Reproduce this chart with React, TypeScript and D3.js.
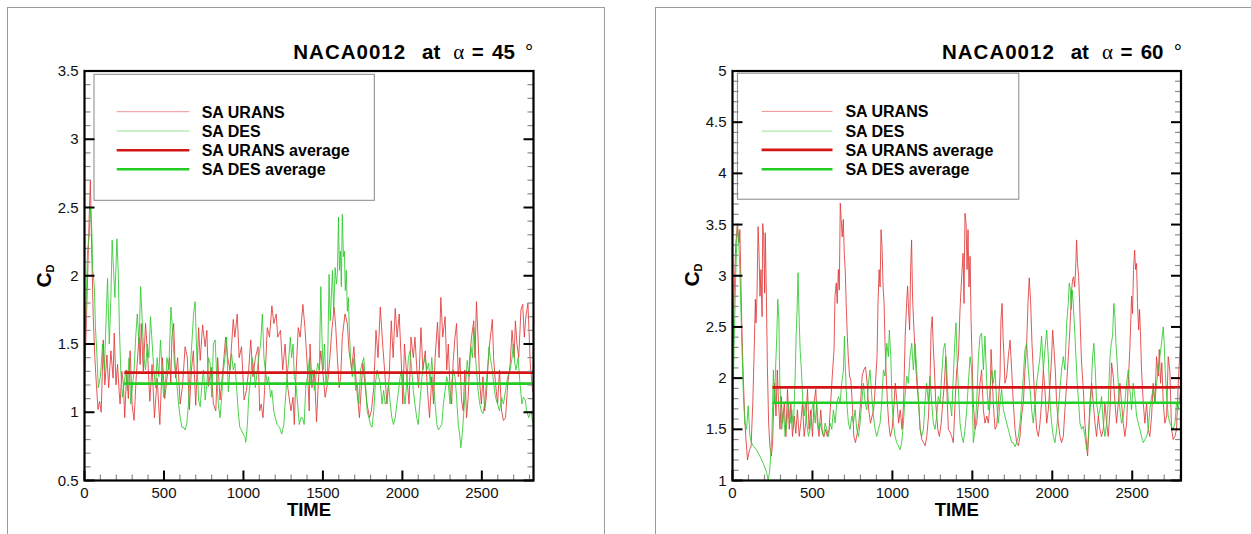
import React from 'react';
import * as d3 from 'd3';

type Pt = [number, number];

// ---- alpha = 45 deg : time, CD ----
const URANS_45: Pt[] = [[0,1.22],[10,1.6],[20,2.0],[30,2.45],[37,2.70],[45,2.2],[55,1.7],[65,1.4],[75,1.2],[85,1.02],[95,1.08],[105,1.0],[118,1.53],[128,1.2],[141,1.42],[152,1.18],[166,1.45],[180,1.25],[187,1.58],[198,1.2],[208,1.35],[218,1.15],[224,1.06],[235,1.3],[245,1.2],[253,0.96],[266,1.31],[276,1.1],[287,1.45],[300,1.05],[312,0.94],[325,1.25],[343,1.55],[350,1.35],[357,1.65],[370,1.3],[384,1.65],[398,1.4],[411,1.08],[425,1.35],[440,0.96],[457,1.25],[474,0.91],[490,1.4],[505,1.1],[519,1.25],[535,1.4],[543,1.2],[550,1.55],[561,1.65],[573,1.25],[586,1.4],[602,1.06],[617,1.2],[633,1.48],[647,1.4],[660,1.02],[672,1.3],[685,1.45],[700,1.05],[718,1.62],[728,1.38],[743,1.64],[759,1.48],[770,1.60],[780,1.19],[797,1.33],[811,1.06],[826,1.01],[838,1.40],[853,1.09],[874,1.35],[888,1.55],[901,1.40],[915,1.31],[936,1.68],[946,1.55],[961,1.72],[973,1.40],[988,1.48],[1004,1.09],[1019,1.16],[1033,1.31],[1046,1.53],[1060,1.26],[1075,1.40],[1092,1.48],[1102,1.01],[1112,1.06],[1123,0.96],[1133,1.16],[1150,1.62],[1164,1.55],[1179,1.78],[1191,1.65],[1206,1.72],[1216,1.55],[1233,1.60],[1247,1.31],[1262,1.50],[1279,1.18],[1299,1.01],[1312,1.11],[1320,0.91],[1330,1.26],[1345,1.62],[1357,1.55],[1374,1.79],[1387,1.62],[1403,1.31],[1414,1.01],[1419,1.50],[1431,1.18],[1446,1.31],[1460,0.93],[1473,1.26],[1487,1.45],[1498,1.31],[1514,1.11],[1529,1.21],[1544,1.40],[1556,1.60],[1571,1.77],[1581,1.62],[1591,1.40],[1602,1.18],[1612,1.26],[1622,1.55],[1639,1.72],[1654,1.65],[1664,1.45],[1681,1.31],[1695,1.48],[1710,1.21],[1722,1.06],[1730,0.96],[1743,1.21],[1751,1.36],[1764,1.21],[1778,1.06],[1793,0.96],[1805,1.01],[1820,1.18],[1834,1.60],[1847,1.40],[1861,1.77],[1876,1.50],[1888,1.31],[1903,1.06],[1917,1.26],[1930,1.67],[1942,1.40],[1955,1.76],[1967,1.55],[1980,1.72],[1992,1.40],[2003,1.06],[2013,1.50],[2028,1.26],[2042,1.06],[2054,1.55],[2069,1.40],[2079,1.55],[2092,1.30],[2102,1.18],[2117,1.62],[2129,1.31],[2144,1.45],[2158,1.16],[2171,0.96],[2185,1.26],[2196,1.06],[2206,1.40],[2221,1.66],[2231,1.40],[2242,1.84],[2254,1.55],[2269,1.70],[2279,1.31],[2289,1.50],[2300,1.16],[2310,1.06],[2320,1.38],[2331,1.55],[2341,1.65],[2352,1.26],[2362,1.40],[2372,1.09],[2383,1.01],[2393,1.31],[2404,0.96],[2414,1.11],[2424,1.40],[2435,1.55],[2449,1.67],[2457,1.40],[2466,1.81],[2476,1.55],[2487,1.21],[2497,1.06],[2507,1.26],[2518,1.01],[2528,1.11],[2539,1.35],[2549,1.50],[2566,1.68],[2574,1.40],[2586,1.21],[2599,1.06],[2611,1.31],[2624,1.01],[2636,0.94],[2649,0.96],[2663,1.21],[2678,1.35],[2690,1.60],[2703,1.40],[2711,1.67],[2721,1.50],[2732,1.40],[2746,1.75],[2757,1.79],[2767,1.55],[2777,1.70],[2790,1.80],[2805,1.35],[2820,1.15]];

const DES_45: Pt[] = [[0,1.35],[10,1.8],[20,2.2],[30,2.3],[37,2.50],[46,2.34],[52,2.04],[62,1.92],[69,1.62],[79,1.40],[87,1.18],[100,1.26],[114,1.50],[125,1.31],[135,1.65],[145,1.98],[156,1.50],[166,1.84],[174,2.26],[183,2.04],[191,1.84],[204,2.27],[212,2.04],[220,1.60],[228,1.31],[239,1.11],[249,1.21],[260,1.31],[270,1.16],[280,1.40],[291,1.06],[301,1.18],[312,1.31],[322,1.55],[332,1.72],[343,1.50],[353,1.92],[363,1.67],[374,1.40],[384,1.31],[395,1.50],[405,1.40],[415,1.70],[426,1.50],[436,1.31],[447,1.18],[457,1.40],[467,1.26],[478,1.53],[488,1.31],[498,1.11],[509,1.21],[519,1.40],[530,1.31],[544,1.77],[557,1.55],[565,1.36],[577,1.26],[592,1.06],[602,0.96],[613,0.89],[623,0.89],[633,0.87],[644,0.92],[654,1.06],[665,1.31],[675,1.50],[686,1.72],[696,1.81],[707,1.40],[718,1.09],[728,1.04],[739,1.21],[749,1.31],[759,1.09],[770,1.21],[780,1.40],[790,1.36],[801,1.11],[811,1.50],[822,1.53],[832,1.26],[842,1.06],[853,0.96],[863,1.11],[874,1.31],[884,1.40],[894,1.55],[905,1.15],[915,1.31],[925,1.43],[936,1.31],[946,1.36],[957,1.18],[967,1.01],[977,0.89],[988,0.87],[998,0.84],[1009,0.82],[1015,0.78],[1025,0.91],[1033,1.11],[1046,1.26],[1054,1.40],[1067,1.31],[1075,1.18],[1087,1.31],[1096,1.40],[1108,1.50],[1119,1.72],[1129,1.40],[1137,1.31],[1150,1.21],[1158,1.26],[1171,1.11],[1179,1.16],[1191,1.01],[1200,0.96],[1212,0.91],[1227,0.89],[1241,0.84],[1254,0.91],[1262,1.06],[1274,1.26],[1283,1.36],[1295,1.55],[1303,1.40],[1312,1.50],[1320,1.26],[1330,1.21],[1341,1.06],[1351,0.91],[1362,0.96],[1372,0.96],[1382,0.91],[1393,1.21],[1404,1.26],[1415,1.40],[1425,1.21],[1436,1.31],[1446,1.16],[1456,1.26],[1467,1.36],[1477,1.31],[1487,1.92],[1494,1.55],[1502,1.31],[1510,1.50],[1519,1.21],[1529,1.31],[1539,2.01],[1546,1.67],[1554,1.87],[1560,2.04],[1568,1.74],[1577,2.06],[1585,1.94],[1591,2.01],[1598,2.43],[1604,2.04],[1610,2.18],[1616,1.92],[1622,2.45],[1629,2.14],[1635,2.18],[1641,1.89],[1647,2.04],[1654,1.74],[1660,1.84],[1668,1.55],[1674,1.40],[1685,1.26],[1695,1.40],[1706,1.16],[1716,1.21],[1726,1.06],[1737,1.31],[1747,1.36],[1757,1.40],[1768,1.21],[1778,1.01],[1789,0.96],[1799,0.91],[1809,0.89],[1820,1.01],[1830,1.21],[1841,1.31],[1851,1.26],[1861,1.21],[1872,1.06],[1882,1.16],[1892,1.06],[1903,1.09],[1913,1.21],[1924,1.06],[1934,0.96],[1944,0.91],[1955,0.96],[1965,1.06],[1976,1.16],[1986,1.26],[1996,1.31],[2007,1.16],[2017,1.06],[2027,1.21],[2038,1.40],[2048,1.45],[2059,1.31],[2069,1.16],[2079,1.06],[2090,0.96],[2100,0.91],[2113,1.11],[2123,1.26],[2134,1.36],[2144,1.40],[2154,1.31],[2165,1.36],[2175,1.21],[2185,1.40],[2196,1.21],[2206,1.06],[2217,0.91],[2227,0.87],[2237,0.89],[2248,0.91],[2258,1.06],[2269,1.16],[2279,1.26],[2289,1.21],[2300,1.06],[2310,1.21],[2320,1.31],[2331,1.26],[2341,1.11],[2352,0.91],[2362,0.82],[2368,0.74],[2379,0.87],[2387,1.01],[2399,1.21],[2408,1.38],[2420,1.26],[2431,1.48],[2441,1.40],[2449,1.62],[2458,1.45],[2466,1.31],[2476,1.16],[2487,1.06],[2497,1.01],[2507,0.99],[2518,1.06],[2528,1.21],[2539,1.36],[2545,1.48],[2553,1.40],[2566,1.31],[2574,1.21],[2586,1.11],[2599,1.06],[2611,1.01],[2624,1.11],[2636,1.06],[2649,1.16],[2663,1.26],[2678,1.31],[2690,1.40],[2698,1.50],[2707,1.36],[2715,1.31],[2728,1.40],[2740,1.21],[2752,1.06],[2761,1.11],[2773,1.09],[2782,1.01],[2795,0.96],[2810,1.01],[2820,0.92]];

// ---- alpha = 60 deg : time, CD ----
const URANS_60: Pt[] = [[0,2.0],[10,2.8],[20,3.3],[31,3.51],[41,3.32],[46,3.45],[52,3.0],[58,2.54],[66,2.08],[75,1.66],[83,1.43],[94,1.2],[106,1.30],[116,1.33],[127,1.76],[137,2.34],[143,2.77],[147,2.54],[153,2.80],[160,3.48],[166,3.22],[172,2.80],[178,3.06],[185,2.60],[189,3.51],[195,3.38],[201,2.83],[205,3.42],[212,2.80],[218,2.12],[226,1.56],[234,1.33],[243,1.24],[251,1.37],[257,1.69],[263,1.95],[272,1.63],[280,2.08],[288,1.76],[297,1.50],[305,1.82],[313,1.56],[324,1.76],[334,1.43],[344,1.89],[355,1.50],[365,1.76],[375,1.43],[386,1.63],[396,1.46],[406,1.69],[417,1.43],[427,1.56],[438,1.76],[448,1.43],[458,1.56],[469,1.89],[479,1.50],[489,1.69],[500,1.43],[510,1.76],[521,1.89],[531,1.56],[541,1.43],[552,1.69],[562,1.46],[572,1.43],[583,1.50],[593,1.43],[604,1.50],[614,1.76],[624,2.02],[635,2.28],[641,2.80],[649,2.93],[655,2.73],[662,3.06],[668,2.86],[674,3.71],[680,3.55],[686,3.38],[693,3.55],[699,3.22],[705,3.06],[711,2.73],[718,2.41],[724,2.21],[732,2.02],[740,1.98],[749,1.76],[759,1.43],[769,1.37],[780,1.46],[790,1.56],[801,1.76],[811,2.02],[821,2.08],[832,2.11],[842,1.95],[852,1.69],[863,1.56],[873,1.63],[883,1.69],[894,1.95],[904,2.21],[910,2.73],[917,3.06],[923,2.89],[929,3.45],[935,3.29],[942,2.89],[948,2.73],[954,2.34],[960,2.08],[969,1.76],[977,1.56],[987,1.43],[998,1.50],[1008,1.69],[1018,1.95],[1029,1.76],[1039,1.56],[1049,1.69],[1060,1.50],[1070,1.76],[1080,2.41],[1089,2.73],[1095,2.90],[1101,2.67],[1108,2.47],[1114,3.06],[1120,3.35],[1126,2.80],[1132,2.57],[1139,2.34],[1145,2.15],[1153,1.95],[1164,1.76],[1174,1.50],[1184,1.40],[1195,1.37],[1205,1.34],[1215,1.43],[1226,1.63],[1236,2.02],[1242,2.47],[1249,2.60],[1255,2.34],[1263,2.08],[1271,1.76],[1284,1.50],[1294,1.43],[1305,1.56],[1315,1.76],[1325,1.95],[1334,2.21],[1342,1.82],[1350,1.50],[1361,1.47],[1371,1.43],[1381,1.37],[1392,1.76],[1402,2.08],[1413,2.21],[1423,2.67],[1429,2.86],[1436,3.06],[1442,3.22],[1448,2.73],[1454,3.61],[1461,3.51],[1467,3.06],[1473,3.45],[1479,2.89],[1486,3.19],[1492,2.57],[1498,2.21],[1506,1.76],[1517,1.50],[1527,1.56],[1538,1.76],[1548,1.95],[1558,2.08],[1569,1.69],[1579,1.56],[1590,1.63],[1600,1.56],[1611,1.76],[1617,2.28],[1623,2.08],[1631,1.76],[1642,1.50],[1652,1.53],[1663,1.76],[1673,2.02],[1679,2.57],[1686,2.73],[1692,2.41],[1698,2.21],[1704,1.95],[1715,2.02],[1725,2.21],[1736,2.37],[1746,2.08],[1756,1.76],[1767,1.50],[1777,1.37],[1788,1.34],[1798,1.43],[1808,1.63],[1819,1.76],[1829,2.08],[1840,2.34],[1848,2.73],[1856,2.98],[1865,2.73],[1873,2.34],[1881,2.08],[1892,1.76],[1902,1.50],[1913,1.43],[1923,1.56],[1933,1.76],[1944,2.08],[1954,1.89],[1965,1.56],[1975,1.69],[1986,1.95],[1996,2.21],[2002,2.47],[2010,2.30],[2019,2.08],[2027,1.76],[2038,1.56],[2048,1.43],[2058,1.37],[2069,1.43],[2079,1.69],[2090,1.95],[2100,2.21],[2110,2.47],[2121,2.86],[2127,2.96],[2133,2.99],[2140,2.89],[2146,3.06],[2152,3.35],[2158,3.12],[2165,2.99],[2171,2.73],[2177,2.41],[2183,2.15],[2194,1.89],[2204,1.56],[2215,1.34],[2221,1.24],[2227,1.43],[2235,1.76],[2246,1.95],[2256,1.76],[2267,1.56],[2277,1.43],[2288,1.63],[2298,1.50],[2308,1.43],[2319,1.50],[2329,1.76],[2340,1.56],[2350,1.43],[2361,1.69],[2371,2.15],[2381,2.02],[2392,1.76],[2402,1.56],[2413,1.76],[2423,1.95],[2433,1.76],[2444,1.56],[2454,1.43],[2465,1.56],[2475,1.95],[2485,2.28],[2496,2.80],[2502,2.63],[2508,3.06],[2515,3.25],[2521,3.06],[2527,3.12],[2533,2.73],[2540,2.47],[2546,2.67],[2552,2.41],[2558,2.08],[2569,1.76],[2579,1.56],[2590,1.76],[2600,1.50],[2610,1.43],[2621,1.63],[2631,1.95],[2642,1.76],[2652,2.21],[2663,2.02],[2669,2.28],[2677,1.95],[2685,2.15],[2694,1.76],[2704,1.56],[2715,1.63],[2725,2.21],[2735,2.08],[2746,1.50],[2756,1.40],[2767,1.43],[2777,1.50],[2788,1.95],[2803,2.41]];

const DES_60: Pt[] = [[0,1.5],[10,2.3],[20,3.0],[30,3.48],[40,3.3],[46,3.06],[57,2.41],[67,1.88],[77,1.56],[88,1.50],[98,1.73],[109,1.43],[119,1.37],[129,1.34],[150,1.30],[171,1.24],[192,1.17],[213,1.08],[223,1.0],[233,1.1],[246,1.43],[256,2.08],[263,1.76],[269,2.08],[277,2.41],[283,2.77],[290,2.57],[296,1.95],[302,1.76],[308,1.50],[319,1.69],[329,1.43],[340,1.56],[350,1.76],[361,1.56],[371,1.69],[381,1.50],[392,2.02],[398,2.41],[404,2.67],[410,3.03],[417,2.57],[423,2.28],[431,2.08],[440,1.76],[448,1.63],[456,1.76],[465,1.56],[475,1.43],[485,1.50],[496,1.69],[506,1.76],[517,1.56],[527,1.76],[538,1.50],[548,1.56],[558,1.50],[569,1.43],[579,1.56],[590,1.50],[600,1.43],[611,1.56],[621,1.50],[631,1.69],[642,1.56],[652,1.76],[663,1.82],[673,1.76],[683,1.95],[694,2.08],[700,2.41],[706,2.08],[715,1.76],[725,1.56],[735,1.50],[746,1.63],[756,1.56],[767,1.69],[777,1.50],[788,1.43],[798,1.56],[808,1.76],[819,1.95],[829,1.76],[840,1.69],[850,1.95],[860,2.08],[871,1.82],[881,1.63],[892,1.50],[902,1.43],[913,1.50],[923,1.56],[933,1.76],[944,2.08],[954,2.02],[965,2.34],[975,2.21],[981,2.47],[990,2.21],[998,1.76],[1006,1.56],[1017,1.43],[1027,1.37],[1037,1.34],[1048,1.30],[1058,1.37],[1069,1.56],[1079,1.82],[1090,2.02],[1100,1.95],[1110,2.21],[1121,2.34],[1131,2.08],[1142,2.34],[1152,2.08],[1162,1.82],[1173,1.50],[1183,1.43],[1194,1.50],[1204,1.76],[1214,1.95],[1225,1.76],[1235,2.02],[1246,1.76],[1256,1.56],[1267,1.50],[1277,1.63],[1287,1.82],[1298,1.76],[1308,2.02],[1319,2.28],[1329,2.34],[1340,2.08],[1350,1.76],[1361,1.76],[1371,1.63],[1381,2.02],[1392,2.41],[1398,2.54],[1404,2.21],[1413,1.89],[1423,1.56],[1434,1.43],[1444,1.37],[1454,1.50],[1465,1.69],[1475,1.95],[1486,2.21],[1496,2.08],[1506,1.37],[1517,1.50],[1527,1.76],[1538,2.21],[1548,2.41],[1558,2.44],[1569,2.08],[1579,2.41],[1590,1.95],[1600,1.69],[1611,1.89],[1621,2.08],[1631,1.95],[1642,2.08],[1652,1.76],[1663,1.56],[1673,1.76],[1683,1.89],[1694,1.69],[1704,1.63],[1715,1.56],[1725,1.50],[1736,1.43],[1746,1.37],[1756,1.37],[1767,1.33],[1777,1.37],[1788,1.43],[1798,1.56],[1808,1.76],[1819,2.02],[1829,2.28],[1840,2.34],[1850,2.08],[1861,1.89],[1871,1.69],[1881,1.56],[1892,1.76],[1902,1.95],[1913,2.08],[1923,2.21],[1933,2.41],[1944,2.08],[1954,2.28],[1965,2.47],[1975,2.21],[1986,1.76],[1996,1.56],[2006,1.43],[2017,1.37],[2027,1.50],[2038,1.69],[2048,1.89],[2058,2.08],[2069,2.21],[2079,2.08],[2090,2.54],[2100,2.73],[2106,2.93],[2113,2.86],[2119,2.67],[2125,2.86],[2131,2.73],[2140,2.47],[2148,2.21],[2156,1.95],[2165,1.76],[2173,1.56],[2183,1.50],[2194,1.53],[2204,1.43],[2215,1.30],[2221,1.33],[2231,1.56],[2240,1.76],[2252,2.21],[2260,2.34],[2269,2.08],[2277,1.76],[2288,1.63],[2298,1.69],[2308,1.82],[2319,1.56],[2329,1.43],[2340,1.56],[2350,1.76],[2361,2.21],[2369,2.34],[2377,2.41],[2385,2.73],[2392,2.60],[2398,2.34],[2406,2.15],[2415,1.89],[2423,1.69],[2433,1.56],[2444,1.63],[2454,1.76],[2465,1.95],[2475,2.08],[2485,1.89],[2496,1.69],[2506,1.95],[2517,1.82],[2527,1.63],[2538,1.56],[2548,1.50],[2558,1.43],[2569,1.37],[2579,1.40],[2590,1.43],[2600,1.50],[2610,1.69],[2621,1.82],[2631,1.89],[2642,1.76],[2652,1.95],[2663,2.08],[2673,2.21],[2683,2.34],[2694,2.50],[2700,2.34],[2706,2.08],[2715,1.82],[2725,1.63],[2735,1.56],[2746,1.53],[2756,1.50],[2767,1.56],[2777,1.76],[2788,1.69],[2803,1.89]];

const ALPHAS = ['45', '60'];
const AVG_URANS = [1.29, 1.91];
const AVG_DES = [1.21, 1.76];
const AVG_START = 250;
const X_MAX = [2825, 2805];
const Y_DOMAINS: [number, number][] = [[0.5, 3.5], [1, 5]];
const X_TICKS = [0, 500, 1000, 1500, 2000, 2500];
const LEGEND_LABELS = ['SA URANS', 'SA DES', 'SA URANS average', 'SA DES average'];

const FONT = "'Liberation Sans', Arial, Helvetica, sans-serif";
const RED_RAW = '#e03a3a';
const GREEN_RAW = '#2fc92f';
const RED_AVG = '#d41515';
const GREEN_AVG = '#22cc22';

interface Layout {
  border: { x: number; y: number; w: number; h: number };
  plot: { x0: number; x1: number; y0: number; y1: number };
  legend: { x: number; y: number; w: number; h: number; lx0: number; lx1: number; tx: number; rows: number[] };
  titleX: number;
  ylabX: number;
  ylabY: number;
}

const LAYOUTS: Layout[] = [
  {
    border: { x: 7.5, y: 7.5, w: 597, h: 600 },
    plot: { x0: 84.5, x1: 533.5, y0: 71, y1: 480.5 },
    legend: { x: 94, y: 74.3, w: 280.3, h: 126, lx0: 116.7, lx1: 189.3, tx: 201.7, rows: [111.7, 131, 150.2, 169.3] },
    titleX: 293.3,
    ylabX: 51.4,
    ylabY: 276,
  },
  {
    border: { x: 655.5, y: 7.5, w: 700, h: 600 },
    plot: { x0: 732.5, x1: 1181, y0: 71, y1: 480.5 },
    legend: { x: 737.4, y: 73.2, w: 281.4, h: 126, lx0: 761.6, lx1: 832.5, tx: 845.4, rows: [111.4, 131.1, 149.9, 169.3] },
    titleX: 942,
    ylabX: 698.5,
    ylabY: 275,
  },
];

function Panel({ idx, urans, des }: { idx: number; urans: Pt[]; des: Pt[] }) {
  const L = LAYOUTS[idx];
  const p = L.plot;
  const x = d3.scaleLinear().domain([0, X_MAX[idx]]).range([p.x0, p.x1]);
  const y = d3.scaleLinear().domain(Y_DOMAINS[idx]).range([p.y1, p.y0]);
  const line = d3.line<Pt>().x((d) => x(d[0])).y((d) => y(d[1]));
  const [ymin, ymax] = Y_DOMAINS[idx];
  const minorY = d3.range(Math.round(ymin * 10), Math.round(ymax * 10) + 1).map((v) => v / 10);
  const majorY = minorY.filter((v) => Math.abs(v * 2 - Math.round(v * 2)) < 1e-9);
  const minorX = d3.range(0, X_MAX[idx] + 1, 100);
  const clipId = `clip${idx}`;
  const t = L.titleX;
  const lg = L.legend;
  const legendStyles = [
    { stroke: RED_RAW, w: 1, op: 0.55 },
    { stroke: GREEN_RAW, w: 1, op: 0.5 },
    { stroke: RED_AVG, w: 2.6, op: 1 },
    { stroke: GREEN_AVG, w: 2.6, op: 1 },
  ];
  return (
    <g>
      <rect x={L.border.x} y={L.border.y} width={L.border.w} height={L.border.h} fill="none" stroke="#9a9a9a" strokeWidth={1} />
      <defs>
        <clipPath id={clipId}>
          <rect x={p.x0} y={p.y0} width={p.x1 - p.x0} height={p.y1 - p.y0} />
        </clipPath>
      </defs>
      {/* title */}
      <g fontFamily={FONT} fontWeight="bold" fontSize={20.5} fill="#000">
        <text x={t} y={58.6} letterSpacing={1}>NACA0012</text>
        <text x={t + 128.7} y={58.6}>at</text>
        <text x={t + 160} y={58.6} fontFamily="'Liberation Serif', 'DejaVu Serif', serif" fontWeight="normal" fontSize={21}>α</text>
        <text x={t + 178.5} y={58.6}>=</text>
        <text x={t + 198.7} y={58.6}>{ALPHAS[idx]}</text>
        <text x={t + 231.7} y={58.6} fontWeight="normal">°</text>
      </g>
      {/* data */}
      <g clipPath={`url(#${clipId})`} fill="none">
        <path d={line(urans) || ''} stroke={RED_RAW} strokeWidth={1} strokeOpacity={0.85} strokeLinejoin="round" />
        <path d={line(des) || ''} stroke={GREEN_RAW} strokeWidth={1} strokeOpacity={0.85} strokeLinejoin="round" />
        <line x1={x(AVG_START)} x2={p.x1} y1={y(AVG_URANS[idx])} y2={y(AVG_URANS[idx])} stroke={RED_AVG} strokeWidth={2.6} />
        <line x1={x(AVG_START)} x2={p.x1} y1={y(AVG_DES[idx])} y2={y(AVG_DES[idx])} stroke={GREEN_AVG} strokeWidth={2.6} />
      </g>
      {/* legend */}
      <rect x={lg.x} y={lg.y} width={lg.w} height={lg.h} fill="#fff" stroke="#888" strokeWidth={1} />
      {LEGEND_LABELS.map((lab, i) => (
        <g key={lab}>
          <line x1={lg.lx0} x2={lg.lx1} y1={lg.rows[i]} y2={lg.rows[i]} stroke={legendStyles[i].stroke} strokeWidth={legendStyles[i].w} strokeOpacity={legendStyles[i].op} />
          <text x={lg.tx} y={lg.rows[i] + 6} fontFamily={FONT} fontWeight="bold" fontSize={16} fill="#000">{lab}</text>
        </g>
      ))}
      {/* ticks */}
      {minorY.map((v) => {
        const major = majorY.includes(v);
        const len = major ? 10 : 6;
        return (
          <g key={'y' + v} stroke={major ? '#000' : '#8a8a8a'} strokeWidth={major ? 2 : 1.2}>
            <line x1={p.x0} x2={p.x0 + len} y1={y(v)} y2={y(v)} />
            <line x1={p.x1} x2={p.x1 - len} y1={y(v)} y2={y(v)} />
          </g>
        );
      })}
      {minorX.map((v) => {
        const major = v % 500 === 0;
        const len = major ? 10 : 6;
        return (
          <line key={'x' + v} x1={x(v)} x2={x(v)} y1={p.y1} y2={p.y1 - len} stroke={major ? '#000' : '#8a8a8a'} strokeWidth={major ? 2 : 1.2} />
        );
      })}
      {/* frame */}
      <rect x={p.x0} y={p.y0} width={p.x1 - p.x0} height={p.y1 - p.y0} fill="none" stroke="#000" strokeWidth={2.2} />
      {/* tick labels */}
      {majorY.map((v) => (
        <text key={'yl' + v} x={p.x0 - 6} y={y(v) + 5} textAnchor="end" fontFamily={FONT} fontSize={15} fill="#111">{String(v)}</text>
      ))}
      {X_TICKS.map((v) => (
        <text key={'xl' + v} x={x(v)} y={497.5} textAnchor="middle" fontFamily={FONT} fontSize={15} fill="#111">{String(v)}</text>
      ))}
      <text x={(p.x0 + p.x1) / 2} y={515.5} textAnchor="middle" fontFamily={FONT} fontWeight="bold" fontSize={18.5} fill="#000">TIME</text>
      <text transform={`translate(${L.ylabX},${L.ylabY}) rotate(-90)`} textAnchor="middle" fontFamily={FONT} fontWeight="bold" fill="#000">
        <tspan fontSize={21}>C</tspan>
        <tspan fontSize={11} dy={3}>D</tspan>
      </text>
    </g>
  );
}

export default function App() {
  return (
    <svg width={1251} height={534} style={{ position: 'absolute', left: 0, top: 0, background: '#fff' }}>
      <rect x={0} y={0} width={1251} height={534} fill="#fff" />
      <Panel idx={0} urans={URANS_45} des={DES_45} />
      <Panel idx={1} urans={URANS_60} des={DES_60} />
    </svg>
  );
}
